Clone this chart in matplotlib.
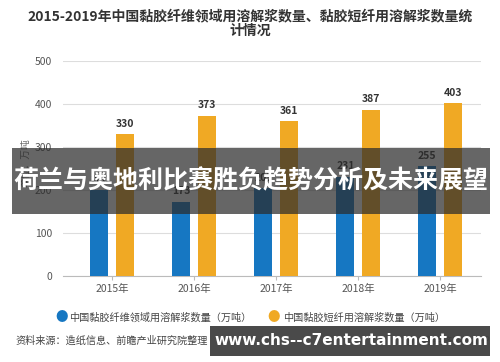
import matplotlib.pyplot as plt
from matplotlib.patches import Rectangle
import numpy as np

plt.rcParams['font.family'] = ['Noto Sans CJK SC', 'DejaVu Sans']

years = ["2015年", "2016年", "2017年", "2018年", "2019年"]
fiber_pulp = [200, 173, 205, 231, 255]     # 中国黏胶纤维领域用溶解浆数量
staple_pulp = [330, 373, 361, 387, 403]    # 中国黏胶短纤用溶解浆数量
y_ticks = [0, 100, 200, 300, 400, 500]

BLUE = "#1677c2"
ORANGE = "#f0a924"

fig = plt.figure(figsize=(5, 3.62), dpi=100, facecolor="white")
ax = fig.add_axes([0.126, 0.2376, 0.836, 0.594])

x = np.arange(len(years))
w = 0.22
ax.bar(x - 0.155, fiber_pulp, width=w, color=BLUE, zorder=3)
ax.bar(x + 0.155, staple_pulp, width=w, color=ORANGE, zorder=3)

for xi, v in zip(x, fiber_pulp):
    ax.text(xi - 0.155, v + 12, str(v), ha="center", va="bottom",
            fontsize=7.5, fontweight="bold", color="#333333")
for xi, v in zip(x, staple_pulp):
    ax.text(xi + 0.155, v + 12, str(v), ha="center", va="bottom",
            fontsize=7.5, fontweight="bold", color="#333333")

ax.set_xlim(-0.6, 4.5)
ax.set_ylim(0, 500)
ax.set_yticks(y_ticks)
ax.set_xticks(x)
ax.set_xticklabels(years)
ax.tick_params(axis="y", length=0, labelsize=7.5, labelcolor="#555555", pad=8)
ax.tick_params(axis="x", length=3, color="#bbbbbb", labelsize=7.5,
               labelcolor="#555555", pad=3)
ax.grid(axis="y", color="#dddddd", linewidth=0.8, zorder=0)
for s in ["top", "right", "left"]:
    ax.spines[s].set_visible(False)
ax.spines["bottom"].set_color("#bbbbbb")

fig.text(0.05, 0.55, "单位：万吨", rotation=90, ha="center", va="center",
         fontsize=7, color="#666666")

fig.text(0.5, 0.935, "2015-2019年中国黏胶纤维领域用溶解浆数量、黏胶短纤用溶解浆数量统\n计情况",
         ha="center", va="center", fontsize=10, fontweight="bold",
         color="#333333", linespacing=1.05)

# legend
fig.text(0.124, 0.122, "●", ha="center", va="center", fontsize=9, color=BLUE)
fig.text(0.138, 0.122, "中国黏胶纤维领域用溶解浆数量（万吨）", ha="left", va="center",
         fontsize=7.3, color="#444444")
fig.text(0.548, 0.122, "●", ha="center", va="center", fontsize=9, color=ORANGE)
fig.text(0.566, 0.122, "中国黏胶短纤用溶解浆数量（万吨）", ha="left", va="center",
         fontsize=7.3, color="#444444")

fig.text(0.03, 0.058, "资料来源：造纸信息、前瞻产业研究院整理", ha="left", va="center",
         fontsize=7.3, color="#444444")
fig.text(0.98, 0.058, "@前瞻经济学人APP", ha="right", va="center",
         fontsize=7, color="#888888")

# overlay banners
fig.patches.append(Rectangle((0.024, 0.409), 0.956, 0.182, transform=fig.transFigure,
                             facecolor="#2b2b2b", alpha=0.72, zorder=10))
fig.text(0.502, 0.5, "荷兰与奥地利比赛胜负趋势分析及未来展望", ha="center", va="center",
         fontsize=18, fontweight="bold", color="white", zorder=11)

fig.patches.append(Rectangle((0.42, 0.017), 0.56, 0.083, transform=fig.transFigure,
                             facecolor="#3a3a3a", alpha=0.92, zorder=10))
fig.text(0.702, 0.06, "www.chs--c7entertainment.com", ha="center", va="center",
         fontsize=11, fontweight="bold", color="white", zorder=11,
         family=["DejaVu Sans"])

fig.savefig("out.png", dpi=100, facecolor="white")
